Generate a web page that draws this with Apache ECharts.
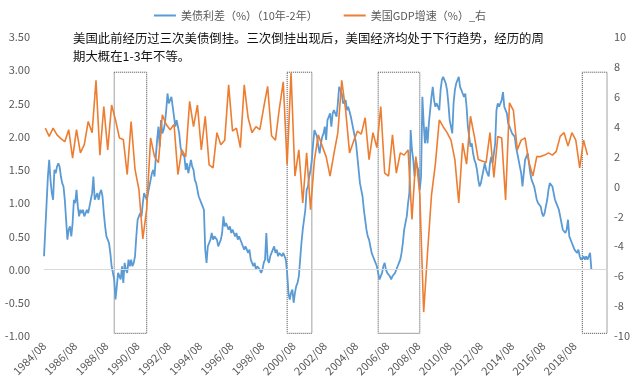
<!DOCTYPE html>
<html><head><meta charset="utf-8">
<script src="https://cdn.jsdelivr.net/npm/echarts@6/dist/echarts.min.js"></script>
<style>html,body{margin:0;padding:0;background:#fff}#c{width:640px;height:388px}</style>
</head><body><div id="c"></div>
<script>
// monthly categories 1984/08 ... 2020/09
const startYear = 1984, startMonth = 8, monthCount = 434;
const months = [];
for (let i = 0; i < monthCount; i++) {
  const t = startMonth - 1 + i;
  months.push((startYear + Math.floor(t / 12)) + '/' + String(t % 12 + 1).padStart(2, '0'));
}
// 10y-2y spread, monthly from 1984/08 (left axis, %)
const spread = [
 0.2,0.6,1.0,1.4,1.65,1.35,1.15,1.05,1.5,1.45,1.55,1.6,
 1.55,1.4,1.3,1.25,1.05,0.75,0.45,0.6,0.65,0.5,0.7,1.05,
 1.0,1.2,0.95,0.8,0.9,0.85,0.9,0.8,0.85,0.9,0.85,0.95,1.05,
 1.15,1.4,1.05,1.1,1.15,1.05,1.15,1.2,1.1,0.85,0.65,0.5,
 0.45,0.4,0.25,0.05,-0.05,-0.15,-0.45,-0.25,-0.05,-0.1,-0.15,0.05,
 -0.2,0.1,0.0,-0.05,0.15,0.05,0.15,0.05,0.1,0.2,0.5,0.75,
 0.8,0.85,0.8,1.0,1.15,1.1,1.05,1.15,1.25,1.35,1.45,1.5,
 1.4,1.7,1.95,2.15,1.85,2.25,2.05,2.1,2.2,2.4,2.65,2.5,
 2.55,2.6,2.45,2.3,2.15,2.25,2.15,2.05,1.85,1.75,1.75,1.7,1.5,
 1.6,1.45,1.55,1.65,1.55,1.5,1.35,1.3,1.2,1.1,1.05,1.0,
 0.95,0.9,0.3,0.1,0.35,0.4,0.45,0.55,0.45,0.5,0.5,0.45,
 0.35,0.4,0.45,0.55,0.8,0.65,0.7,0.65,0.6,0.65,0.55,0.6,
 0.55,0.5,0.55,0.45,0.5,0.45,0.4,0.35,0.3,0.35,0.35,0.25,
 0.3,0.15,0.1,0.05,0.1,0.0,0.05,0.02,0.0,-0.05,0.0,0.1,0.15,
 0.55,0.15,0.1,0.2,0.25,0.3,0.35,0.25,0.3,0.2,0.25,0.28,
 0.2,0.25,0.2,0.15,-0.05,-0.35,-0.45,-0.35,-0.3,-0.5,-0.35,-0.25,
 -0.2,-0.1,0.15,0.4,0.6,0.75,0.9,1.2,1.25,1.4,1.5,1.65,
 1.9,2.1,2.05,2.0,1.85,1.75,1.9,2.0,2.05,2.15,1.95,2.25,
 2.3,2.35,2.15,2.35,2.4,2.35,2.3,2.5,2.75,2.7,2.65,2.5,2.52,
 2.55,2.4,2.45,2.45,2.3,2.2,2.1,2.0,1.9,1.7,1.5,1.3,
 1.2,1.1,0.9,0.75,0.6,0.5,0.45,0.35,0.25,0.2,0.15,0.1,
 0.05,-0.05,-0.15,-0.1,-0.05,0.05,0.1,0.0,-0.05,-0.05,-0.1,-0.15,
 -0.1,-0.1,-0.05,0.0,0.05,0.1,0.15,0.25,0.4,0.6,0.7,0.8,
 1.0,1.15,2.1,1.8,1.65,1.4,1.65,1.55,1.5,1.2,1.4,2.6,
 2.2,1.9,2.15,1.9,2.2,2.4,2.6,2.75,2.55,2.45,2.5,2.45,2.4,
 2.7,2.85,2.9,2.85,2.8,2.7,2.5,2.25,2.15,2.05,2.5,2.7,
 2.8,2.85,2.9,2.75,2.7,2.65,2.6,2.65,2.45,2.15,2.0,1.85,
 1.9,1.75,1.65,1.6,1.5,1.35,1.25,1.3,1.4,1.5,1.6,1.5,
 1.45,1.4,1.6,1.7,1.6,1.75,1.9,2.4,2.5,2.45,2.5,2.55,
 2.67,2.45,2.4,2.35,2.2,2.15,2.1,2.05,2.02,2.0,1.85,1.75,1.65,
 1.55,1.45,1.25,1.45,1.65,1.7,1.75,1.6,1.45,1.35,1.3,1.25,
 1.15,1.05,1.0,0.98,0.95,0.85,0.8,0.85,0.95,1.05,1.2,1.3,
 1.28,1.25,1.15,1.05,1.0,0.95,0.9,0.8,0.7,0.6,0.58,0.55,
 0.6,0.75,0.5,0.45,0.4,0.35,0.3,0.28,0.25,0.3,0.2,0.15,
 0.18,0.2,0.15,0.2,0.15,0.2,0.25,0.0
];
// US real GDP growth, quarterly from 1984Q3 (right axis, %)
const gdp = [
 3.9,3.35,
 3.9,3.45,3.2,3.0,
 3.8,1.9,3.8,2.25,
 2.8,4.35,3.6,7.1,
 2.1,5.35,2.45,5.45,
 4.45,3.25,3.15,0.8,
 4.35,1.15,-0.2,-3.5,
 -1.5,3.25,2.0,1.6,
 4.8,4.15,3.8,4.15,
 0.8,2.45,2.0,5.7,
 4.0,5.45,2.45,4.7,
 1.45,1.25,3.6,2.8,
 3.1,6.8,3.7,3.9,
 2.6,6.8,4.6,3.6,
 4.0,3.8,5.3,6.7,
 3.4,3.1,5.2,7.0,
 1.45,7.6,0.7,2.45,
 -1.1,2.25,-1.55,1.8,
 3.45,2.7,2.0,0.7,
 2.2,3.6,7.1,5.1,
 2.25,3.0,3.7,3.5,
 4.6,1.8,3.6,2.6,
 5.35,0.9,0.7,3.45,
 0.9,2.25,2.1,2.45,
 -2.2,2.0,-0.5,-8.4,
 -4.4,-0.6,1.5,4.45,
 4.0,3.6,3.1,1.8,
 -1.1,2.9,1.5,4.7,
 3.35,1.8,1.7,1.6,
 3.6,0.6,3.35,3.25,
 -0.9,5.6,5.1,2.45,
 3.1,3.25,1.6,0.7,
 2.0,2.0,2.1,2.25,
 2.1,2.35,3.35,3.6,
 2.7,3.6,3.1,1.25,
 3.1,2.1
];
const gdpFirstMonthIndex = 1; // 1984/09
// inversion boxes: [first month, last month]
const boxes = [['1989/02','1991/03'],['2000/03','2001/10'],['2006/01','2008/09'],['2019/02','2020/09']];
const boxTop = 2.97, boxBottom = -0.96;
const noteText = '美国此前经历过三次美债倒挂。三次倒挂出现后，美国经济均处于下行趋势，经历的周\n期大概在1-3年不等。';
const leftTicks = {min: -1, max: 3.5, interval: 0.5};
const rightTicks = {min: -10, max: 10, interval: 2};

const chart = echarts.init(document.getElementById('c'), null, {renderer: 'canvas'});
const grey = '#595959';
chart.setOption({
  animation: false,
  textStyle: {fontFamily: '"Noto Sans CJK SC", "Noto Sans", sans-serif'},
  legend: {
    top: 5, left: 'center', itemGap: 26, itemWidth: 22, itemHeight: 2, icon: 'rect',
    textStyle: {color: grey, fontSize: 11},
    data: ['美债利差（%）（10年-2年）', '美国GDP增速（%）_右']
  },
  graphic: [{
    type: 'text', left: 73, top: 29, z: 100,
    style: {text: noteText, fill: '#111', font: '12.4px "Noto Sans CJK SC"', lineHeight: 18}
  }],
  grid: {left: 44, right: 33, top: 37, bottom: 52},
  xAxis: {
    type: 'category', data: months, boundaryGap: false,
    axisLine: {show: false}, axisTick: {show: false}, splitLine: {show: false},
    axisLabel: {
      interval: (i) => i % 24 === 0 && i <= 408,
      rotate: 45, color: grey, fontSize: 11, margin: 8
    }
  },
  yAxis: [{
    type: 'value', position: 'left', min: leftTicks.min, max: leftTicks.max, interval: leftTicks.interval,
    axisLine: {show: false}, axisTick: {show: false}, splitLine: {show: false},
    axisLabel: {color: grey, fontSize: 11, margin: 14, formatter: (v) => v.toFixed(2)}
  }, {
    type: 'value', position: 'right', min: rightTicks.min, max: rightTicks.max, interval: rightTicks.interval,
    axisLine: {show: false}, axisTick: {show: false}, splitLine: {show: false},
    axisLabel: {color: grey, fontSize: 11, margin: 7}
  }],
  series: [{
    name: '美债利差（%）（10年-2年）', type: 'line', yAxisIndex: 0, data: spread,
    showSymbol: false, symbol: 'none', z: 2,
    lineStyle: {color: '#5B9BD5', width: 1.8}, itemStyle: {color: '#5B9BD5'},
    markLine: {
      silent: true, symbol: 'none', label: {show: false},
      lineStyle: {color: '#d9d9d9', width: 1, type: 'solid'},
      data: [{yAxis: 0}]
    },
    markArea: {
      silent: true,
      itemStyle: {color: 'rgba(0,0,0,0)', borderColor: '#444', borderWidth: 1, borderType: 'dotted'},
      data: boxes.map(b => [{xAxis: b[0], yAxis: boxTop}, {xAxis: b[1], yAxis: boxBottom}])
    }
  }, {
    name: '美国GDP增速（%）_右', type: 'line', yAxisIndex: 1,
    data: gdp.map((v, k) => [gdpFirstMonthIndex + 3 * k, v]),
    showSymbol: false, symbol: 'none', z: 3,
    lineStyle: {color: '#ED7D31', width: 1.6}, itemStyle: {color: '#ED7D31'}
  }]
});
</script></body></html>
